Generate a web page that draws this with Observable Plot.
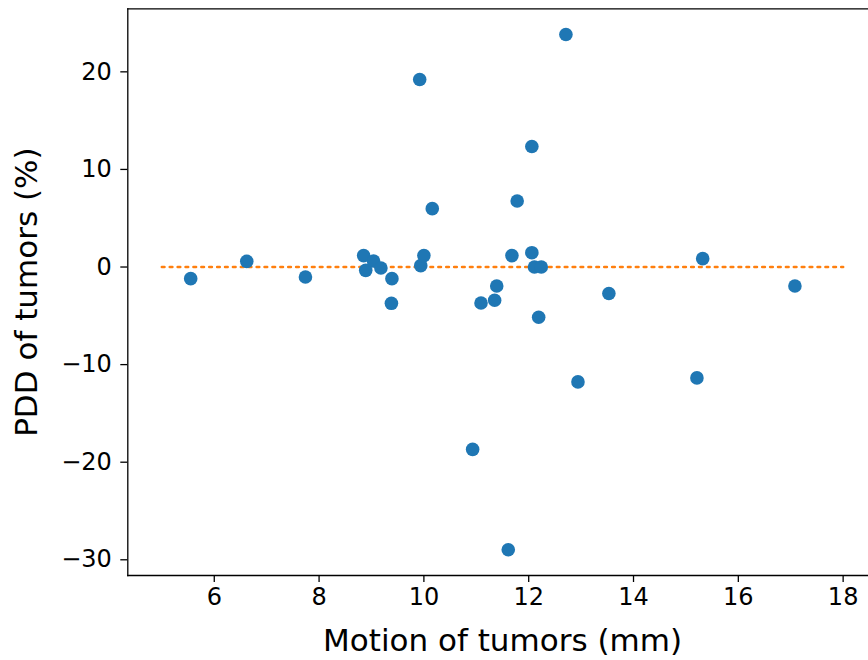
<!DOCTYPE html>
<html>
<head>
<meta charset="utf-8">
<script src="https://cdn.jsdelivr.net/npm/d3@7"></script>
<script src="https://cdn.jsdelivr.net/npm/@observablehq/plot@0.6"></script>
<style>
  html, body { margin: 0; padding: 0; background: #fff; overflow: hidden; }
  #chart { width: 868px; height: 660px; overflow: hidden; }
  svg { font-family: "DejaVu Sans", sans-serif; }
</style>
</head>
<body>
<div id="chart"></div>
<script>
// Tumor motion (mm)
const motion = [5.55, 6.62, 7.74, 8.85, 8.89, 9.04, 9.18, 9.39, 9.38, 9.92, 9.94,
  10.00, 10.16, 10.93, 11.09, 11.35, 11.39, 11.61, 11.68, 11.78, 12.06, 12.06,
  12.11, 12.24, 12.19, 12.71, 12.94, 13.53, 15.21, 15.32, 17.08];
// PDD of tumors (%)
const pdd = [-1.19, 0.58, -1.02, 1.17, -0.34, 0.61, -0.10, -1.19, -3.72, 19.21, 0.14,
  1.17, 5.98, -18.69, -3.68, -3.41, -1.94, -28.97, 1.17, 6.76, 12.35, 1.47,
  0.0, 0.0, -5.15, 23.82, -11.77, -2.72, -11.36, 0.86, -1.94];
// Reference line
const refX = [5, 18];
const refY = [0, 0];
// Ticks
const xTicks = [6, 8, 10, 12, 14, 16, 18];
const yTicks = [-30, -20, -10, 0, 10, 20];
const xLabel = "Motion of tumors (mm)";
const yLabel = "PDD of tumors (%)";

const points = motion.map((m, i) => ({x: m, y: pdd[i]}));
const refLine = refX.map((v, i) => ({x: v, y: refY[i]}));
const fmt = d => d < 0 ? "\u2212" + Math.abs(d) : String(d);

// The plotting area runs past the right edge of the picture (cropped figure)
const chart = Plot.plot({
  width: 868,
  height: 660,
  marginLeft: 127.3,
  marginRight: 0,
  marginTop: 8.3,
  marginBottom: 85,
  style: {fontFamily: "DejaVu Sans, sans-serif", background: "#fff", color: "#000", overflow: "hidden"},
  x: {domain: [4.35, 18.484]},
  y: {domain: [-31.61, 26.46]},
  marks: [
    Plot.axisX({ticks: xTicks, tickFormat: fmt, tickSize: 7, tickPadding: 5, fontSize: 24, label: null, stroke: "#000", strokeWidth: 1.3, fill: "#000"}),
    Plot.axisY({ticks: yTicks, tickFormat: fmt, tickSize: 7, tickPadding: 9, fontSize: 24, label: null, stroke: "#000", strokeWidth: 1.3, fill: "#000"}),
    Plot.line(refLine, {x: "x", y: "y", stroke: "#ff7f0e", strokeWidth: 2.6, strokeDasharray: "2.6 5.3"}),
    Plot.dot(points, {x: "x", y: "y", r: 6.8, fill: "#1f77b4", stroke: "none"}),
    Plot.frame({anchor: "top", stroke: "#000", strokeWidth: 1.3}),
    Plot.frame({anchor: "left", stroke: "#000", strokeWidth: 1.3}),
    Plot.frame({anchor: "bottom", stroke: "#000", strokeWidth: 1.3}),
    Plot.text([xLabel], {text: d => d, frameAnchor: "bottom", lineAnchor: "bottom", textAnchor: "middle", dx: 8.7 / 2, dy: 75, fontSize: 31, fill: "#000"}),
    Plot.text([yLabel], {text: d => d, frameAnchor: "left", lineAnchor: "bottom", textAnchor: "middle", rotate: -90, dx: -90.6, fontSize: 31, fill: "#000"})
  ]
});
document.getElementById("chart").appendChild(chart);
</script>
</body>
</html>
